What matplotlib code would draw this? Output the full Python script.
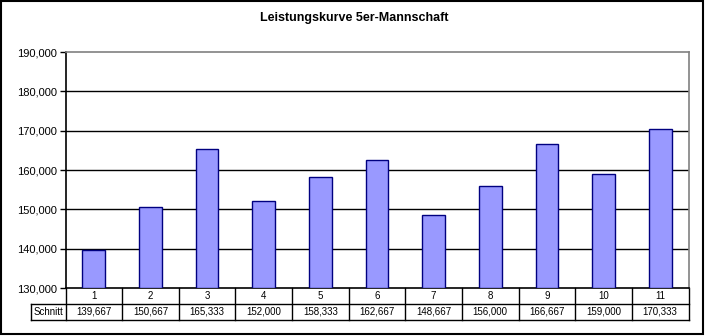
import matplotlib
matplotlib.use("Agg")
import matplotlib.pyplot as plt
from matplotlib.patches import Rectangle
from matplotlib.lines import Line2D

plt.rcParams['font.family'] = ['Liberation Sans', 'DejaVu Sans']

categories = ['1', '2', '3', '4', '5', '6', '7', '8', '9', '10', '11']
schnitt = [139.667, 150.667, 165.333, 152.000, 158.333, 162.667,
           148.667, 156.000, 166.667, 159.000, 170.333]
row_label = 'Schnitt'
title = 'Leistungskurve 5er-Mannschaft'
yticks = [130, 140, 150, 160, 170, 180, 190]


def de_fmt(v):
    return '{:.3f}'.format(v).replace('.', ',')


W, H = 705, 336
fig = plt.figure(figsize=(W / 100, H / 100), dpi=100)

# plot area in pixel units
left, right, top, bottom = 65.5, 688.5, 52, 288
ax = fig.add_axes([left / W, 1 - bottom / H, (right - left) / W, (bottom - top) / H])

x = list(range(len(categories)))
ax.bar(x, [v - yticks[0] for v in schnitt], bottom=yticks[0], width=0.4,
       color='#9999FF', edgecolor='#000080', linewidth=1.0, zorder=3)

ax.set_xlim(-0.5, len(categories) - 0.5)
ax.set_ylim(yticks[0], yticks[-1])
ax.set_yticks(yticks)
ax.set_yticklabels([de_fmt(t) for t in yticks], fontsize=8)
ax.set_xticks([])
ax.tick_params(axis='y', direction='out', length=4, width=1, pad=2)

for t in yticks[1:-1]:
    ax.axhline(t, color='black', linewidth=1, zorder=1)

ax.spines['left'].set_color('black')
ax.spines['bottom'].set_color('black')
ax.spines['top'].set_color('#808080')
ax.spines['right'].set_color('#808080')
for s in ax.spines.values():
    s.set_linewidth(1.2)

fig.text(0.503, 1 - 18 / H, title, ha='center', va='center',
         fontsize=9, fontweight='bold')

# data table below the axis
h_ax = bottom - top
row_h = 16 / h_ax
label_x = (31 - left) / (right - left)
tr = ax.get_xaxis_transform()
kw = dict(color='black', linewidth=1, clip_on=False)

ax.add_line(Line2D([label_x, 1], [-row_h, -row_h], transform=ax.transAxes, **kw))
ax.add_line(Line2D([label_x, 1], [-2 * row_h, -2 * row_h], transform=ax.transAxes, **kw))
ax.add_line(Line2D([label_x, label_x], [-row_h, -2 * row_h], transform=ax.transAxes, **kw))
for i in range(len(categories) + 1):
    ax.add_line(Line2D([i - 0.5, i - 0.5], [0, -2 * row_h], transform=tr, **kw))

for i, (c, v) in enumerate(zip(categories, schnitt)):
    ax.text(i, -0.5 * row_h, c, transform=tr, ha='center', va='center', fontsize=7)
    ax.text(i, -1.5 * row_h, de_fmt(v), transform=tr, ha='center', va='center', fontsize=7)
ax.text(label_x + 0.004, -1.5 * row_h, row_label, transform=ax.transAxes,
        ha='left', va='center', fontsize=7)

# outer chart frame
fig.patches.append(Rectangle((1 / W, 2 / H), (W - 3) / W, (H - 3) / H,
                             transform=fig.transFigure, fill=False,
                             edgecolor='black', linewidth=1.5))

fig.savefig('out.png', dpi=100)
